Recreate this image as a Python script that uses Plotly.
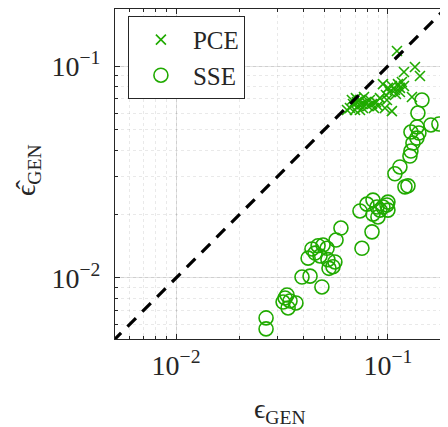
import plotly.graph_objects as go

# PCE estimates: true generalisation error vs estimated
pce_true = [0.1103, 0.1190, 0.1341, 0.1416, 0.1298,
            0.0947, 0.1000, 0.1044, 0.1079, 0.1115, 0.1139, 0.1164, 0.1190,
            0.1022, 0.1091, 0.0979, 0.1139,
            0.0989, 0.1044, 0.0968,
            0.0662, 0.0684, 0.0699, 0.0714, 0.0722, 0.0738, 0.0754, 0.0762,
            0.0788, 0.0805, 0.0822, 0.0841, 0.0859, 0.0878, 0.0676, 0.0706,
            0.0738, 0.0771, 0.0897, 0.0917, 0.0641]
pce_est = [0.1177, 0.0937, 0.0989, 0.0897, 0.0714,
           0.0822, 0.0788, 0.0805, 0.0771, 0.0822, 0.0788, 0.0841, 0.0805,
           0.0754, 0.0738, 0.0730, 0.0754,
           0.0691, 0.0613, 0.0634,
           0.0634, 0.0662, 0.0620, 0.0676, 0.0648, 0.0691, 0.0662, 0.0634,
           0.0676, 0.0648, 0.0691, 0.0662, 0.0634, 0.0676, 0.0691, 0.0706,
           0.0620, 0.0714, 0.0648, 0.0706, 0.0620]

# SSE estimates
sse_true = [0.1447, 0.1385, 0.1740, 0.1595, 0.1370, 0.1284, 0.1400, 0.1312,
            0.1284, 0.1270, 0.1139, 0.1079, 0.1243, 0.1203, 0.1000, 0.0989,
            0.0850, 0.0796, 0.0738, 0.0888, 0.0917, 0.0850, 0.0897, 0.1000,
            0.0841, 0.0754, 0.0600, 0.0569, 0.0438, 0.0468, 0.0494, 0.0516,
            0.0453, 0.0478, 0.0420, 0.0521, 0.0562, 0.0550, 0.0527, 0.0393,
            0.0429, 0.0488, 0.0334, 0.0327, 0.0320, 0.0345, 0.0368, 0.0338,
            0.0266, 0.0266, 0.1370, 0.0947]
sse_est = [0.0691, 0.0600, 0.0533, 0.0527, 0.0516, 0.0488, 0.0483, 0.0433,
           0.0397, 0.0376, 0.0334, 0.0310, 0.0272, 0.0269, 0.0228, 0.0221,
           0.0233, 0.0223, 0.0207, 0.0216, 0.0209, 0.0200, 0.0194, 0.0209,
           0.0165, 0.0138, 0.0172, 0.0151, 0.0137, 0.0142, 0.0143, 0.0138,
           0.0131, 0.0127, 0.0124, 0.0122, 0.0119, 0.0113, 0.0111, 0.0101,
           0.0102, 0.00907, 0.00831, 0.00805, 0.00770, 0.00779, 0.00762, 0.00722,
           0.00648, 0.00575, 0.0457, 0.0216]

diag = [0.001, 1.0]
tick_vals = [0.01, 0.1]
tick_text = ["10<sup>\u22122</sup>", "10<sup>\u22121</sup>"]
x_title = "\u03f5<sub>GEN</sub>"
y_title = "\u03f5\u0302<sub>GEN</sub>"

GREEN = "rgb(32,170,0)"
SERIF = "Liberation Serif, DejaVu Serif, serif"
DARK = "#262626"

fig = go.Figure()
fig.add_trace(go.Scatter(x=pce_true, y=pce_est, mode="markers", name="PCE",
                         marker=dict(symbol="x-thin-open", size=10, color=GREEN,
                                     line=dict(color=GREEN, width=1.6))))
fig.add_trace(go.Scatter(x=sse_true, y=sse_est, mode="markers", name="SSE",
                         marker=dict(symbol="circle-open", size=14, color=GREEN,
                                     line=dict(color=GREEN, width=1.6))))
fig.add_trace(go.Scatter(x=diag, y=diag, mode="lines", showlegend=False,
                         line=dict(color="black", width=3.2, dash="12px,9px")))

axis_common = dict(
    type="log", tickvals=tick_vals, ticktext=tick_text,
    ticks="inside", ticklen=5, tickcolor=DARK, mirror="ticks",
    showline=True, linecolor=DARK, linewidth=1,
    showgrid=True, gridcolor="rgba(38,38,38,0.13)", gridwidth=1,
    minor=dict(dtick="D1", ticks="inside", ticklen=3, tickcolor=DARK,
               showgrid=True, gridcolor="rgba(38,38,38,0.10)", griddash="dot"),
    tickfont=dict(family=SERIF, size=28, color=DARK),
    zeroline=False, automargin=False,
)

fig.update_xaxes(**axis_common, range=[-2.288, -0.726], ticklabelstandoff=1)
fig.update_yaxes(**axis_common, range=[-2.288, -0.731], ticklabelstandoff=8)

fig.add_annotation(text=x_title, xref="paper", yref="paper", x=0.4985, y=0,
                   yshift=-71, xanchor="center", yanchor="middle", showarrow=False,
                   font=dict(family=SERIF, size=28, color=DARK))
fig.add_annotation(text=y_title, xref="paper", yref="paper", x=0, y=0.512,
                   xshift=-88, xanchor="center", yanchor="middle", showarrow=False,
                   textangle=-90, font=dict(family=SERIF, size=28, color=DARK))

fig.update_layout(
    width=440, height=419,
    margin=dict(l=107, r=2, t=1, b=88),
    paper_bgcolor="white", plot_bgcolor="white",
    showlegend=True,
    legend=dict(x=0.039, y=0.979, xanchor="left", yanchor="top",
                bgcolor="white", bordercolor=DARK, borderwidth=1,
                font=dict(family=SERIF, size=25, color=DARK),
                itemsizing="trace", itemwidth=54, tracegroupgap=0),
)

fig.write_html("out.html")
